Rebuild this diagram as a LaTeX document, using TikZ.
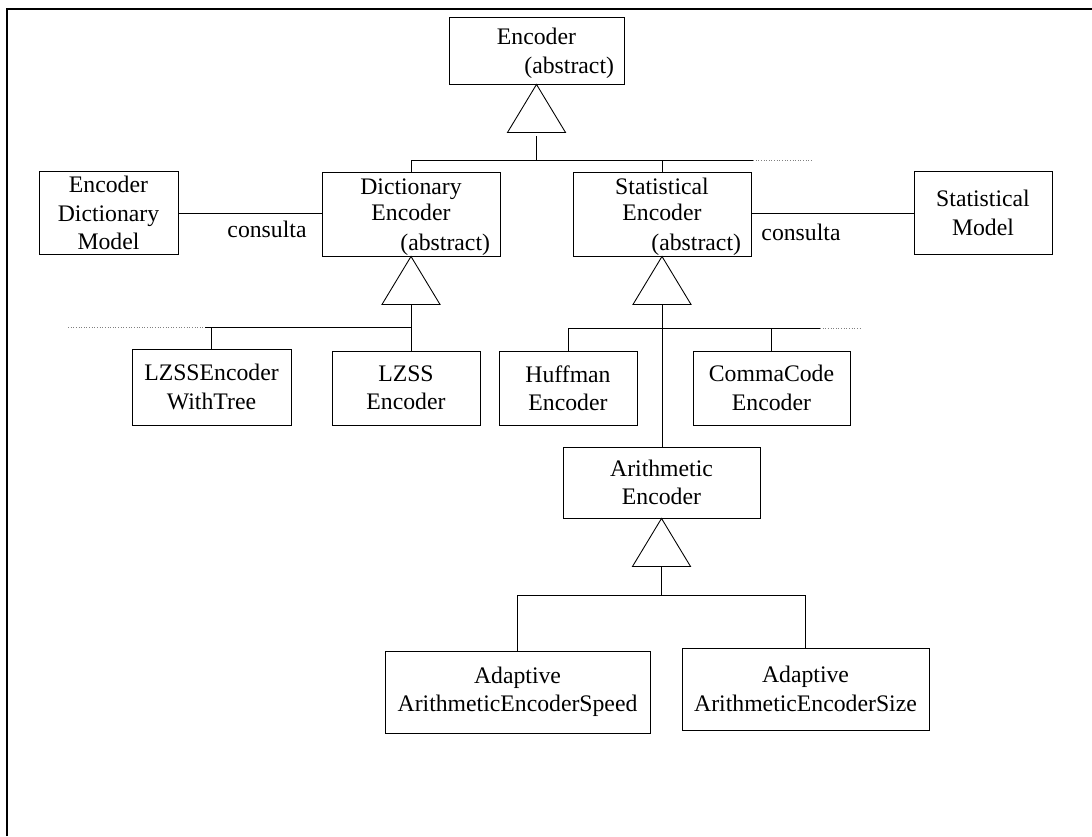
\documentclass[tikz,border=0pt]{standalone}
\usepackage{fontspec}
\setmainfont{Liberation Serif}
\usetikzlibrary{positioning}
\tikzset{
  cls/.style={draw, rectangle, inner xsep=0.2cm, inner ysep=0pt, align=center, line width=0.5pt,
    font=\fontsize{13.5}{16.2}\selectfont},
  abscls/.style={cls, font=\fontsize{13.5}{15.3}\selectfont, execute at begin node={\rule{0pt}{12.5pt}}},
  lbl/.style={inner sep=0pt, font=\fontsize{13.5}{16.2}\selectfont},
  ghost/.style={densely dotted, gray, line width=0.5pt}
}
% generalisation triangle below a class, base midpoint named #2
\newcommand{\gentri}[2]{%
  \draw (#1.south) -- ++(29,48) -- ++(-58,0) -- cycle;
  \coordinate (#2) at ([yshift=-0.96cm]#1.south);}

\begin{document}
\begin{tikzpicture}[x=0.02cm, y=-0.02cm, line width=0.5pt]
  \useasboundingbox (0,0) rectangle (1092,836);
  % frame
  \draw[line width=1pt] (7,836) -- (7,9) -- (1092,9);

  % classes
  \node[abscls, minimum width=3.5cm, minimum height=1.34cm, text width=3.1cm] (enc) at (536.5,50.5) {Encoder\\[1.7pt]\hfill(abstract)};
  \node[cls, minimum width=2.78cm, minimum height=1.66cm] (edm) at (108.5,213) {Encoder\\Dictionary\\Model};
  \node[abscls, minimum width=3.52cm, minimum height=1.68cm, text width=3.16cm] (dict) at (411,214) {Dictionary\\Encoder\\[1.7pt]\hfill(abstract)};
  \node[abscls, minimum width=3.52cm, minimum height=1.68cm, text width=3.16cm] (stat) at (662,214) {Statistical\\Encoder\\[1.7pt]\hfill(abstract)};
  \node[cls, minimum width=2.76cm, minimum height=1.66cm] (smod) at (983,213) {Statistical\\Model};
  \node[cls, minimum width=3.18cm, minimum height=1.52cm] (lzt) at (211.5,387) {LZSSEncoder\\WithTree};
  \node[cls, minimum width=2.96cm, minimum height=1.48cm] (lzss) at (406,388) {LZSS\\Encoder};
  \node[cls, minimum width=2.76cm, minimum height=1.48cm] (huff) at (568,388) {Huffman\\Encoder};
  \node[cls, minimum width=3.14cm, minimum height=1.48cm] (comma) at (771.5,388) {CommaCode\\Encoder};
  \node[cls, minimum width=3.94cm, minimum height=1.42cm] (arith) at (661.5,482.5) {Arithmetic\\Encoder};
  \node[cls, minimum width=5.3cm, minimum height=1.64cm] (aaspeed) at (517.5,692) {Adaptive\\ArithmeticEncoderSpeed};
  \node[cls, minimum width=4.94cm, minimum height=1.64cm] (aasize) at (805.5,689) {Adaptive\\ArithmeticEncoderSize};

  % bus ends
  \coordinate (bus1r) at (753,160);
  \coordinate (bus1x) at (812,160);
  \coordinate (bus2l) at (68,327);
  \coordinate (bus2m) at (205,327);
  \coordinate (bus3r) at (820,328);
  \coordinate (bus3x) at (862,328);
  \coordinate (bus4) at (0,595);

  % Encoder
  \gentri{enc}{encb}
  \draw ([yshift=-0.08cm]encb) -- (encb |- bus1r);
  \draw (dict.north) -- (dict.north |- bus1r) -- (bus1r);
  \draw (stat.north) -- (stat.north |- bus1r);
  \draw[ghost] (bus1r) -- (bus1x);

  % DictionaryEncoder
  \gentri{dict}{dictb}
  \draw (dictb) -- (dictb |- lzss.north);
  \draw (bus2m) -- (dictb |- bus2m);
  \draw (lzt.north) -- (lzt.north |- bus2m);
  \draw[ghost] (bus2l) -- (bus2m);

  % StatisticalEncoder
  \gentri{stat}{statb}
  \draw (statb) -- (statb |- arith.north);
  \draw (huff.north) -- (huff.north |- bus3r) -- (bus3r);
  \draw (comma.north) -- (comma.north |- bus3r);
  \draw[ghost] (bus3r) -- (bus3x);

  % ArithmeticEncoder
  \gentri{arith}{arithb}
  \draw (arithb) -- (arithb |- bus4);
  \draw (aaspeed.north) -- (aaspeed.north |- bus4) -- (aasize.north |- bus4) -- (aasize.north);

  % associations
  \draw (edm.east) -- (edm.east -| dict.west);
  \node[lbl] (ask1) at (267,229) {consulta};
  \draw (smod.west) -- (smod.west -| stat.east);
  \node[lbl] (ask2) at (801,232) {consulta};
\end{tikzpicture}
\end{document}
